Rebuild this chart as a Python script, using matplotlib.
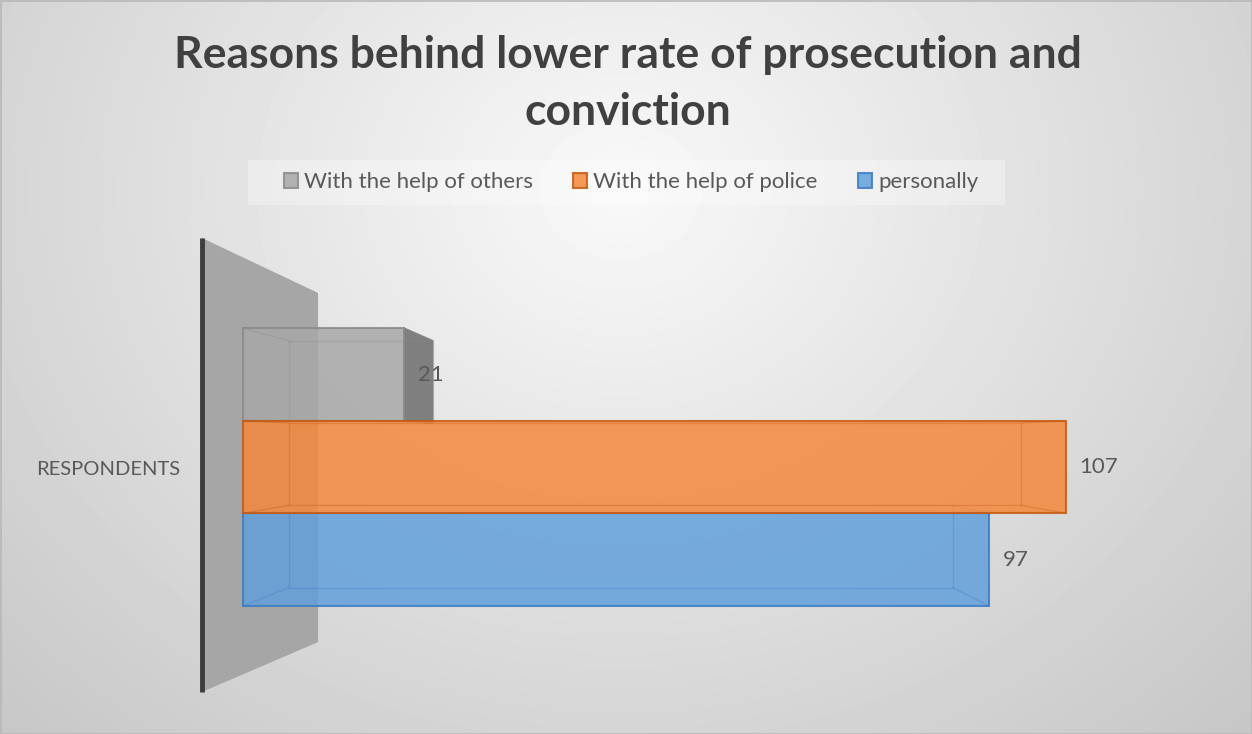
import matplotlib

matplotlib.use("Agg")
import matplotlib.pyplot as plt
import numpy as np
from matplotlib.patches import Polygon, Rectangle

# chart data
categories = ["RESPONDENTS"]
series_names = ["With the help of others", "With the help of police", "personally"]
series_values = [21, 107, 97]

face_colors = ["#a8a8a8", "#f4883c", "#62a0db"]
edge_colors = ["#8a8a8a", "#c55a11", "#3a7cc2"]
side_colors = ["#7f7f7f", "#c96520", "#3f7fc0"]

plt.rcParams["font.family"] = ["Lato", "DejaVu Sans"]

W, H = 1252, 734
fig = plt.figure(figsize=(W / 100, H / 100), dpi=100)

# radial grey background
bg = fig.add_axes([0, 0, 1, 1], zorder=-10)
yy, xx = np.mgrid[0:H, 0:W]
r = np.hypot((xx - 620) / 700, (yy - 190) / 600)
shade = np.clip(0.975 - 0.155 * r, 0.75, 1.0)
bg.imshow(shade, cmap="gray", vmin=0, vmax=1, aspect="auto",
          extent=[0, W, H, 0], interpolation="bilinear")
bg.add_patch(Rectangle((0.5, 0.5), W - 1, H - 1, fill=False,
                       edgecolor="#b8b8b8", lw=1.2))
# legend backdrop
bg.add_patch(Rectangle((248, 160), 757, 45, facecolor="white", alpha=0.3,
                       edgecolor="none"))
bg.set_xlim(0, W)
bg.set_ylim(H, 0)
bg.axis("off")

# plot area: left edge sits on the wall line
ax = fig.add_axes([202 / W, 42 / H, 1002 / W, 454 / H])
ax.set_xlim(-5.33, 125)
ax.set_ylim(-1.432, 3.476)
ax.axis("off")

# side wall
ax.add_patch(Polygon([(0, 0), (0, 1), (0.1158, 0.879), (0.1158, 0.110)],
                     closed=True, transform=ax.transAxes, facecolor="#a6a6a6",
                     edgecolor="none", zorder=1, clip_on=False))
ax.plot([0, 0], [0, 1], transform=ax.transAxes, color="#3d3d3d", lw=3.5,
        solid_capstyle="butt", zorder=1.5, clip_on=False)

# simple perspective for the bar depth
vx, vy, s = 54.5, 1.28, 0.89


def back(x, y):
    return vx + s * (x - vx), vy + s * (y - vy)


n = len(series_values)
zorders = {0: 2, 1: 4, 2: 3}
handles = []
for i, (name, val) in enumerate(zip(series_names, series_values)):
    ypos = n - 1 - i
    z = zorders[i]
    y0, y1 = ypos - 0.5, ypos + 0.5
    front = [(0, y0), (val, y0), (val, y1), (0, y1)]
    rear = [back(x, y) for x, y in front]

    # visible end face when the rear end sticks out past the front
    if rear[1][0] > val:
        ax.add_patch(Polygon([front[1], rear[1], rear[2], front[2]],
                             closed=True, facecolor=side_colors[i],
                             edgecolor=side_colors[i], lw=1, zorder=z))

    bars = ax.barh(ypos, val, height=1.0, color=face_colors[i], alpha=0.85,
                   edgecolor=edge_colors[i], linewidth=1.5, label=name,
                   zorder=z + 0.1)
    handles.append(bars[0])

    # faint hidden edges of the box
    ax.add_patch(Polygon(rear, closed=True, fill=False,
                         edgecolor=edge_colors[i], alpha=0.3, lw=1,
                         zorder=z + 0.2))
    for (fx, fy), (bx, by) in zip(front, rear):
        ax.plot([fx, bx], [fy, by], color=edge_colors[i], alpha=0.3, lw=1,
                zorder=z + 0.2)

    ax.annotate(str(val), xy=(val, ypos), xytext=(10, 0),
                textcoords="offset points", ha="left", va="center",
                fontsize=16, color="#595959", zorder=10)

fig.text(180 / W, 1 - 469 / H, categories[0], ha="right", va="center",
         fontsize=14.5, color="#595959")

fig.text(628 / W, 1 - 55 / H, "Reasons behind lower rate of prosecution and",
         ha="center", va="center", fontsize=32, fontweight="bold",
         color="#404040")
fig.text(628 / W, 1 - 112 / H, "conviction", ha="center", va="center",
         fontsize=32, fontweight="bold", color="#404040")

leg = fig.legend(handles=handles, labels=series_names, loc="center",
                 bbox_to_anchor=(631 / W, 1 - 182 / H), ncol=3,
                 frameon=False, fontsize=16,
                 handlelength=0.65, handleheight=0.65, handletextpad=0.27,
                 columnspacing=1.8, borderpad=0.3)
for t in leg.get_texts():
    t.set_color("#595959")

fig.savefig("out.png", dpi=100)
